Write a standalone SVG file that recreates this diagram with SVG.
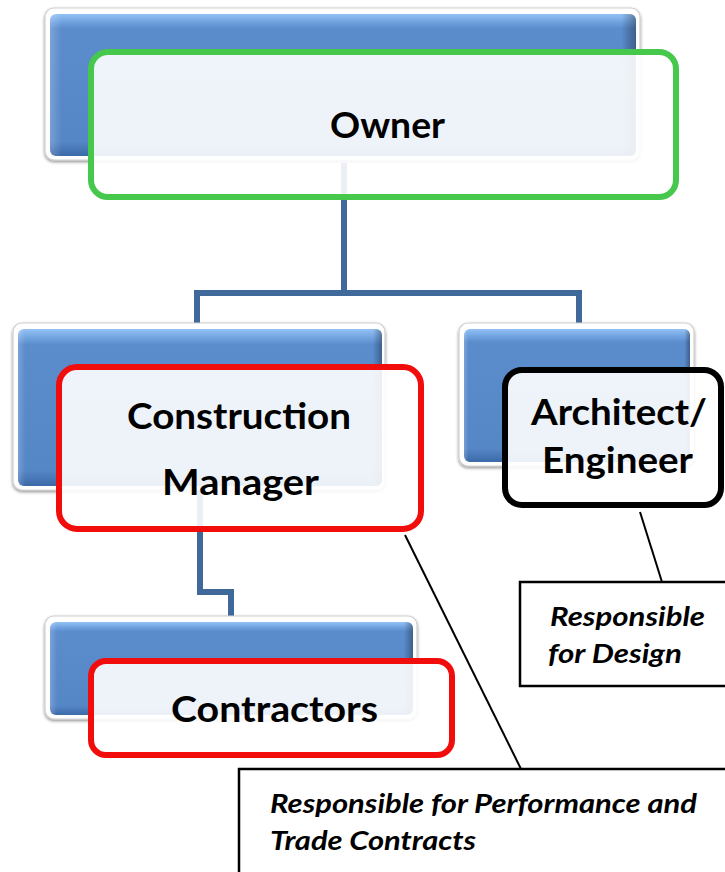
<svg xmlns="http://www.w3.org/2000/svg" width="725" height="872" viewBox="0 0 725 872">
<defs>
<linearGradient id="blueV" x1="0" y1="0" x2="0" y2="1">
<stop offset="0" stop-color="#93C2F5"/>
<stop offset="0.05" stop-color="#74A6E2"/>
<stop offset="0.1" stop-color="#5B8CCC"/>
<stop offset="0.9" stop-color="#5586C6"/>
<stop offset="1" stop-color="#3C6AA8"/>
</linearGradient>
<linearGradient id="blueH" x1="0" y1="0" x2="1" y2="0">
<stop offset="0" stop-color="#ffffff" stop-opacity="0.2"/>
<stop offset="0.02" stop-color="#ffffff" stop-opacity="0"/>
<stop offset="0.975" stop-color="#000000" stop-opacity="0"/>
<stop offset="1" stop-color="#000000" stop-opacity="0.32"/>
</linearGradient>
<filter id="sh" x="-5%" y="-5%" width="110%" height="115%">
<feDropShadow dx="0" dy="1.5" stdDeviation="1.8" flood-color="#000" flood-opacity="0.45"/>
</filter>
</defs>
<style>
.frame{fill:#ffffff;stroke:#cfcfcf;stroke-width:1.2;filter:url(#sh)}
.blue{fill:url(#blueV)}
.bevel{fill:url(#blueH)}
.front{fill:#ffffff;fill-opacity:0.9;stroke-width:6}
.green{stroke:#45C84B}
.red{stroke:#F20D0D}
.black{stroke:#000000}
.lbl{font-family:Lato,"Open Sans","Liberation Sans",sans-serif;font-weight:bold;font-size:37px;fill:#000;text-anchor:middle}
.note{font-family:Lato,"Open Sans","Liberation Sans",sans-serif;font-weight:bold;font-style:italic;font-size:27px;fill:#000}
.conn{fill:none;stroke:#40699B;stroke-width:6}
.lead{fill:none;stroke:#000;stroke-width:2}
.callout{fill:#ffffff;stroke:#000;stroke-width:2.5}
</style>
<g id="connectors">
<path class="conn" d="M344 163 V293 M197 330 V293 H579 V330"/>
<path class="conn" d="M200 488 V592 H231 V620"/>
<line class="lead" x1="640" y1="512" x2="662" y2="582"/>
<line class="lead" x1="405" y1="535" x2="521" y2="769"/>
</g>
<g id="owner">
<rect class="frame" x="45" y="8" width="595" height="152" rx="9"/>
<rect class="blue" x="50" y="14" width="586" height="142" rx="6"/>
<rect class="bevel" x="50" y="14" width="586" height="142" rx="6"/>
<rect class="front green" x="91" y="52" width="585" height="145" rx="17"/>
<text class="lbl" x="387.5" y="138" textLength="115" lengthAdjust="spacingAndGlyphs">Owner</text>
</g>
<g id="construction-manager">
<rect class="frame" x="13" y="323" width="372" height="167" rx="9"/>
<rect class="blue" x="18" y="329" width="364" height="157" rx="6"/>
<rect class="bevel" x="18" y="329" width="364" height="157" rx="6"/>
<rect class="front red" x="59" y="367" width="362" height="162" rx="18"/>
<text class="lbl" x="239" y="429" textLength="224" lengthAdjust="spacingAndGlyphs">Construction</text>
<text class="lbl" x="240.5" y="495" textLength="157" lengthAdjust="spacingAndGlyphs">Manager</text>
</g>
<g id="architect-engineer">
<rect class="frame" x="459" y="323" width="235" height="143" rx="9"/>
<rect class="blue" x="464" y="329" width="226" height="133" rx="6"/>
<rect class="bevel" x="464" y="329" width="226" height="133" rx="6"/>
<rect class="front black" x="505" y="370" width="216" height="135" rx="17"/>
<text class="lbl" x="619" y="425" textLength="176" lengthAdjust="spacingAndGlyphs">Architect/</text>
<text class="lbl" x="617.5" y="473" textLength="151" lengthAdjust="spacingAndGlyphs">Engineer</text>
</g>
<g id="contractors">
<rect class="frame" x="45" y="616" width="372" height="103" rx="9"/>
<rect class="blue" x="50" y="622" width="363" height="93" rx="6"/>
<rect class="bevel" x="50" y="622" width="363" height="93" rx="6"/>
<rect class="front red" x="91" y="661" width="361" height="94" rx="15"/>
<text class="lbl" x="274.5" y="722" textLength="207" lengthAdjust="spacingAndGlyphs">Contractors</text>
</g>
<g id="note-design">
<rect class="callout" x="520" y="582" width="215" height="104"/>
<text class="note" x="550" y="626" textLength="155" lengthAdjust="spacingAndGlyphs">Responsible</text>
<text class="note" x="548" y="663" textLength="134" lengthAdjust="spacingAndGlyphs">for Design</text>
</g>
<g id="note-performance">
<rect class="callout" x="239" y="769" width="500" height="120"/>
<text class="note" x="270" y="813" textLength="427" lengthAdjust="spacingAndGlyphs">Responsible for Performance and</text>
<text class="note" x="270" y="850" textLength="206" lengthAdjust="spacingAndGlyphs">Trade Contracts</text>
</g>
</svg>
